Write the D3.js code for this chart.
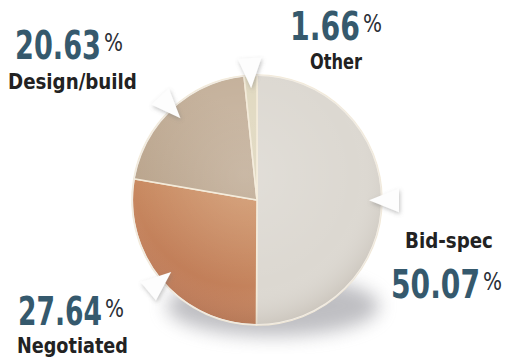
<!DOCTYPE html>
<html>
<head>
<meta charset="utf-8">
<script src="https://cdn.jsdelivr.net/npm/d3@7"></script>
<style>
  body { margin: 0; background: #fff; }
  svg { display: block; }
</style>
</head>
<body>
<div id="container"></div>
<script>
const width = 505
const height = 360

// data, clockwise from 12 o'clock
const categories = ["Bid-spec", "Negotiated", "Design/build", "Other"]
const shares = [50.07, 27.64, 20.63, 1.66]
// light / dark end of each slice's shading
const sliceLight = ["#dcd8d1", "#d7a272", "#c4b09a", "#e0d8bf"]
const sliceDark = ["#c3beb5", "#b5694a", "#ad967c", "#cbbf9f"]

// label layout: number position/width, label position/width
const labelLayout = {
    "Bid-spec":     { nx: 391, ny: 298, nw: 89, lx: 405, ly: 248, lw: 88 },
    "Negotiated":   { nx: 18,  ny: 325, nw: 84, lx: 17,  ly: 353, lw: 111 },
    "Design/build": { nx: 15,  ny: 59,  nw: 86, lx: 8,   ly: 89,  lw: 129 },
    "Other":        { nx: 290, ny: 40,  nw: 70, lx: 310, ly: 69,  lw: 52 },
}

const cx = 257
const cy = 200
const radius = 125

const svg = d3.select('#container')
    .append('svg').attr('width', width).attr('height', height)

const defs = svg.append("defs")

const blur = defs.append("filter").attr("id", "blur")
    .attr("x", "-30%").attr("y", "-30%").attr("width", "160%").attr("height", "160%")
blur.append("feGaussianBlur").attr("stdDeviation", 9)

const arrowShadow = defs.append("filter").attr("id", "arrowShadow")
    .attr("x", "-50%").attr("y", "-50%").attr("width", "200%").attr("height", "200%")
arrowShadow.append("feDropShadow")
    .attr("dx", 1).attr("dy", 2).attr("stdDeviation", 2)
    .attr("flood-color", "#777").attr("flood-opacity", 0.45)

sliceLight.forEach((c, i) => {
    const lg = defs.append("linearGradient").attr("id", "slice" + i)
        .attr("gradientUnits", "userSpaceOnUse")
        .attr("x1", cx + 40).attr("y1", cy - 110)
        .attr("x2", cx - 90).attr("y2", cy + 120)
    lg.append("stop").attr("offset", "0%").attr("stop-color", c)
    lg.append("stop").attr("offset", "100%").attr("stop-color", sliceDark[i])
})
// bid-spec darkens toward the right
defs.select("#slice0")
    .attr("x1", cx - 10).attr("y1", cy - 60)
    .attr("x2", cx + 120).attr("y2", cy + 60)

// lighting over the whole disc
const light = defs.append("radialGradient").attr("id", "light")
    .attr("cx", "45%").attr("cy", "40%").attr("r", "62%")
light.append("stop").attr("offset", "0%").attr("stop-color", "#fff").attr("stop-opacity", 0.16)
light.append("stop").attr("offset", "72%").attr("stop-color", "#fff").attr("stop-opacity", 0.0)
light.append("stop").attr("offset", "100%").attr("stop-color", "#6b5a48").attr("stop-opacity", 0.16)

// shadow beneath the pie
svg.append("ellipse")
    .attr("cx", cx + 16).attr("cy", cy + 106)
    .attr("rx", radius * 0.85).attr("ry", 30)
    .attr("fill", "#8a8a92").attr("opacity", 0.55)
    .attr("filter", "url(#blur)")

const g = svg.append("g").attr("transform", `translate(${cx},${cy})`)

const pie = d3.pie().sort(null).value(d => d)
const arcs = pie(shares)

const arc = d3.arc().innerRadius(0).outerRadius(radius)

g.selectAll(".slice")
    .data(arcs)
    .join("path")
    .attr("class", "slice")
    .attr("d", arc)
    .attr("fill", (d, i) => `url(#slice${i})`)
    .attr("stroke", "#f3ead8")
    .attr("stroke-width", 1.6)

g.append("circle")
    .attr("r", radius)
    .attr("fill", "url(#light)")

g.append("circle")
    .attr("r", radius - 0.5)
    .attr("fill", "none")
    .attr("stroke", "#f1ece4")
    .attr("stroke-width", 1.2)

// arrows pointing into each slice
const pt = (a, r) => [r * Math.sin(a), -r * Math.cos(a)]
g.selectAll(".arrow")
    .data(arcs)
    .join("path")
    .attr("class", "arrow")
    .attr("d", d => {
        const a = (d.startAngle + d.endAngle) / 2
        const tip = pt(a, radius - 13)
        const base = pt(a, radius + 17)
        const px = Math.cos(a) * 12
        const py = Math.sin(a) * 12
        return d3.line()([tip, [base[0] + px, base[1] + py], [base[0] - px, base[1] - py]]) + "Z"
    })
    .attr("fill", "#fdfdfd")
    .attr("filter", "url(#arrowShadow)")

// labels, squeezed horizontally to the condensed widths of the original
const fontStack = "'Liberation Sans Narrow', 'DejaVu Sans Condensed', 'Roboto Condensed', sans-serif"

function fitText(x, y, w, str, size, weight, fill) {
    const t = svg.append("text")
        .attr("font-family", fontStack)
        .attr("font-weight", weight)
        .attr("font-size", size)
        .attr("fill", fill)
        .text(str)
    const natural = t.node().getComputedTextLength()
    t.attr("transform", `translate(${x},${y}) scale(${w / natural},1)`)
    return t
}

categories.forEach((name, i) => {
    const L = labelLayout[name]
    fitText(L.nx, L.ny, L.nw, shares[i].toFixed(2), 39, "bold", "#35596d")
    fitText(L.nx + L.nw + 3, L.ny - 8, 19, "%", 24, "normal", "#2a2f35")
    fitText(L.lx, L.ly, L.lw, name, 21, "bold", "#222")
})
</script>
</body>
</html>
